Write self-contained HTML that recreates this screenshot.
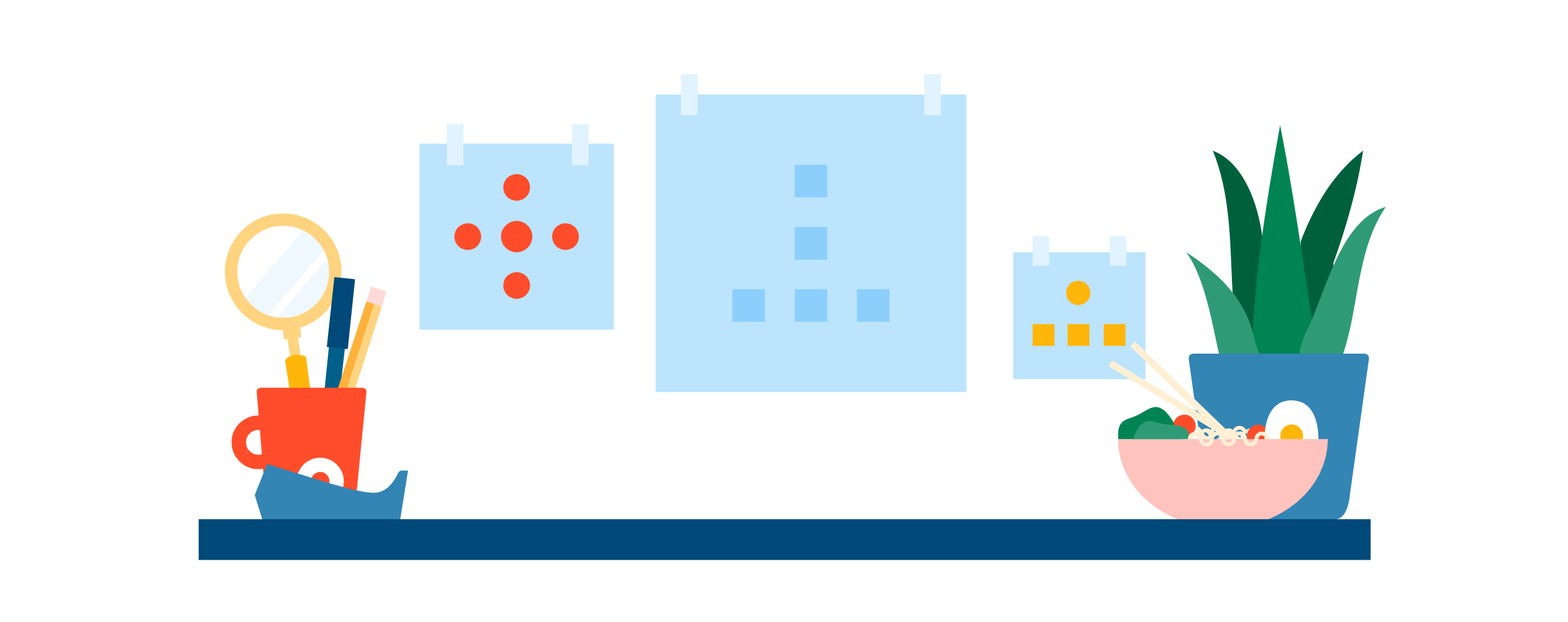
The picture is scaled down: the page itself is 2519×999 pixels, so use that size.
<!DOCTYPE html>
<html lang="en">
<head>
<meta charset="utf-8">
<title>Desk shelf illustration</title>
<style>
html,body{margin:0;padding:0;background:#fff;}
body{width:2519px;height:999px;overflow:hidden;font-family:"Liberation Sans",sans-serif;}
svg{display:block;}
</style>
</head>
<body>
<svg width="2519" height="999" viewBox="0 0 2519 999" role="img" aria-label="Desk shelf with calendars, mug, plant and noodle bowl">
<defs>
<clipPath id="glassClip"><circle cx="455" cy="436.5" r="75"/></clipPath>
<clipPath id="bowlClip"><rect x="1780" y="705.2" width="370" height="128.8"/></clipPath>
<clipPath id="aboveBowl"><rect x="1780" y="600" width="370" height="105.2"/></clipPath>
<clipPath id="aboveBowl2"><rect x="1780" y="600" width="370" height="105.45"/></clipPath>
</defs>
<rect width="2519" height="999" fill="#ffffff"/>

<!-- calendar 1 -->
<g id="cal1">
<rect x="674" y="230.7" width="312" height="298.9" fill="#BCE4FD"/>
<rect x="717.8" y="199.3" width="26.7" height="66" fill="#E0F3FE"/>
<rect x="918.9" y="199.3" width="26.7" height="66" fill="#E0F3FE"/>
<circle cx="830" cy="301" r="21.5" fill="#FF4D2B"/>
<circle cx="830" cy="380" r="25.2" fill="#FF4D2B"/>
<circle cx="751.5" cy="380" r="21.5" fill="#FF4D2B"/>
<circle cx="908.5" cy="380" r="21.5" fill="#FF4D2B"/>
<circle cx="830" cy="458.5" r="21.5" fill="#FF4D2B"/>
</g>

<!-- calendar 2 -->
<g id="cal2">
<rect x="1053.3" y="151.9" width="499.2" height="477.7" fill="#BCE4FD"/>
<rect x="1093.9" y="119.1" width="26.6" height="65.9" fill="#E0F3FE"/>
<rect x="1485" y="119.1" width="26.6" height="65.9" fill="#E0F3FE"/>
<rect x="1276.7" y="264.6" width="52.3" height="52.3" fill="#8DCFFC"/>
<rect x="1276.7" y="364.8" width="52.3" height="52.3" fill="#8DCFFC"/>
<rect x="1276.7" y="464.5" width="52.3" height="52.3" fill="#8DCFFC"/>
<rect x="1176.5" y="464.5" width="52.3" height="52.3" fill="#8DCFFC"/>
<rect x="1376.8" y="464.5" width="52.3" height="52.3" fill="#8DCFFC"/>
</g>

<!-- calendar 3 -->
<g id="cal3">
<rect x="1627.6" y="405.1" width="212.7" height="203.8" fill="#BCE4FD"/>
<rect x="1658.9" y="378.9" width="26.5" height="47.9" fill="#E0F3FE"/>
<rect x="1783" y="378.9" width="26.5" height="47.9" fill="#E0F3FE"/>
<circle cx="1732.2" cy="470.5" r="19.5" fill="#FFB60A"/>
<rect x="1658.9" y="520.5" width="35.1" height="35" fill="#FFB60A"/>
<rect x="1715.1" y="520.5" width="35" height="35" fill="#FFB60A"/>
<rect x="1773.2" y="520.5" width="35" height="35" fill="#FFB60A"/>
</g>

<!-- magnifier -->
<g id="magnifier">
<circle cx="455" cy="436.5" r="75" fill="#EFF8FE"/>
<g clip-path="url(#glassClip)" fill="#ffffff">
<polygon points="551,293.9 330.1,554.2 300,554 300,290"/>
<polygon points="562.8,352 388.6,556.2 406.6,555.1 564.7,369.8"/>
</g>
<circle cx="455" cy="436.5" r="83.75" fill="none" stroke="#FFD480" stroke-width="20"/>
<polygon points="454.2,527 481.9,523 484,541.4 456.3,545.2" fill="#FFD480"/>
<polygon points="461.5,544 478.8,541.5 483.5,575 466.8,575" fill="#FFD480"/>
<path d="M458 579.1 C460 575 467 570.3 474.8 570.1 C482 570 489 571 491.65 573.7 L499 630 L466 630 Z" fill="#FFB60A"/>
</g>

<!-- pen -->
<g id="pen">
<polygon points="528.4,557 554,560 546,630 521,630" fill="#00608A"/>
<polygon points="537.2,445.1 570.4,448.5 558.7,560.8 525,557.2" fill="#004978"/>
</g>

<!-- pencil -->
<g id="pencil">
<polygon points="588.7,484.2 613.5,492 568.6,630 541,630" fill="#FFD480"/>
<polygon points="588.7,484.2 600.9,488.1 555.1,630 541,630" fill="#FFB13B"/>
<polygon points="596.1,460.1 620.9,467.8 613.5,492 588.7,484.2" fill="#FFDAD8"/>
</g>

<!-- mug -->
<g id="mug">
<circle cx="415.2" cy="710.4" r="31.6" fill="none" stroke="#FF4D2B" stroke-width="23.2"/>
<path d="M420 622.8 L581 622.8 Q589.2 622.8 588.6 630.5 L568.6 834 L429.4 834 L412.5 630.5 Q411.9 622.8 420 622.8 Z" fill="#FF4D2B"/>
<circle cx="514.4" cy="773.1" r="38" fill="#ffffff"/>
<circle cx="514.3" cy="773" r="14.9" fill="#FF4D2B"/>
</g>

<!-- tape dispenser -->
<path id="tape" d="M429.2 745.3 L409.2 795 L421.3 834 L643 834 L655.5 755.8 L646 755.8 C641 755.8 640 759 636.3 766.2 C628 780 618 791.3 600 791.4 C585 791.5 560 785 528 775.8 Z" fill="#3385B4"/>

<!-- plant -->
<g id="plant">
<path d="M1948.4 241.9 C2004.7 263.4 2026.5 345.7 2030 400 L2032 575 L1986 575 L1980.2 469.4 C1976 393.2 1977.7 313.7 1948.4 241.9 Z" fill="#00603D"/>
<path d="M2189.9 241.9 C2141.5 278.4 2111.1 332 2089.7 387.6 L2085 575 L2140 575 L2142.2 422 C2163.2 363.5 2180.3 303.4 2189.9 241.9 Z" fill="#00603D"/>
<path d="M2056.5 200.9 C2036.9 310.4 2018.3 421.5 2012.6 532.5 L2012 575 L2112 575 L2107.4 511.5 C2091.4 407.9 2076.9 303.7 2056.5 200.9 Z" fill="#008454"/>
<path d="M1905.8 405.2 C1950.4 434.3 1990.9 469.5 2008.7 521.3 C2014 536.7 2016.5 553 2023.4 567.8 L2023.4 575 L1958.2 575 L1958.2 567.8 C1946.8 517.6 1936.1 447.2 1905.8 405.2 Z" fill="#2F9B76"/>
<path d="M2226.2 332.2 C2151.5 354.4 2129.8 473.2 2098.2 533.3 C2094 543.9 2088.4 555.4 2087.4 567.8 L2087.4 575 L2158 575 L2158 567.7 C2183.7 490.7 2179.6 400.8 2226.2 332.2 Z" fill="#2F9B76"/>
</g>

<!-- pot -->
<path id="pot" d="M1917.5 568 L2191.5 568 Q2200.3 568 2199 578 L2168.7 794 C2167 812 2161 834 2145 834 L1945.8 834 L1909.8 577.5 Q1908.7 568 1917.5 568 Z" fill="#3385B4"/>

<!-- back noodles -->
<g id="backnoodles" fill="none" stroke="#FFF0D5" stroke-width="6">
<path d="M2000.4 700 a8.9 8.9 0 0 1 17.8 0"/>
<path d="M1982.3 696.5 V695.9 a8.9 8.9 0 0 1 17.8 0 V696.5"/>
</g>

<!-- tomato 2 -->
<circle cx="2021.3" cy="700.2" r="18.1" fill="#FF4D2B"/>

<!-- egg -->
<g id="egg">
<path d="M2031.4 706 C2031.4 680 2039 643.1 2074.9 643.1 C2110.8 643.1 2118.1 680 2118.1 706 L2118.1 720 L2031.4 720 Z" fill="#ffffff"/>
<circle cx="2075.1" cy="700" r="18.3" fill="#FFB60A"/>
</g>

<!-- bowl -->
<ellipse cx="1964.6" cy="705.2" rx="168.6" ry="143" fill="#FFC3BE" clip-path="url(#bowlClip)"/>

<!-- greens + tomato 1 -->
<g id="greens" clip-path="url(#aboveBowl)">
<path d="M1796.3 706 L1796.3 696 C1796.5 686 1800 677.5 1810 673.5 C1820 670 1826 668 1835.1 662.5 C1845 656.5 1850 653.7 1857.1 653.7 C1866 653.7 1875 661 1885.7 678.5 L1900 706 Z" fill="#008454"/>
<path d="M1911.1 706 V695.9 a8.9 8.9 0 0 1 17.8 0 V706" fill="none" stroke="#FFF0D5" stroke-width="6"/>
<circle cx="1902.8" cy="684" r="18.1" fill="#FF4D2B"/>
<path d="M1819.6 710 Q1822 694 1832.9 681.8 Q1840 675.5 1848 676.3 Q1856 677.5 1862 679.5 Q1875 682.5 1890 683 Q1902 684.5 1908 692 Q1911 697 1908 710 Z" fill="#2F9B76"/>
</g>

<!-- noodle mass -->
<g id="noodlemass" clip-path="url(#aboveBowl2)" fill="#FFF0D5">
<circle cx="1938" cy="700" r="11.9"/>
<rect x="1926.1" y="700" width="23.8" height="6"/>
<circle cx="1955.7" cy="705" r="11.9"/>
<circle cx="1973.6" cy="700" r="11.9"/>
<rect x="1961.7" y="700" width="23.8" height="6"/>
<circle cx="1991.3" cy="705" r="11.9"/>
<polygon points="1924,701.2 1926.5,700 1926.5,706 1922.2,706"/>
<path d="M1946.7 706 V695.9 a8.9 8.9 0 0 1 17.8 0 V706" fill="none" stroke="#FFF0D5" stroke-width="6"/>
</g>

<!-- chopsticks -->
<g id="chopsticks" stroke="#FFF0D5" stroke-width="10.8" fill="none">
<line x1="1819.4" y1="552.25" x2="1970" y2="697.7"/>
<line x1="1783.85" y1="583.6" x2="1964" y2="692.7" stroke-width="11"/>
</g>

<!-- front noodle -->
<path id="noodle" d="M1911.4 705.1 a8.9 8.9 0 0 1 17.8 0 a8.9 8.9 0 0 0 17.8 0 a8.9 8.9 0 0 1 17.8 0 a8.9 8.9 0 0 0 17.8 0 a8.9 8.9 0 0 1 17.8 0 a8.9 8.9 0 0 0 17.8 0 a8.9 8.9 0 0 1 17.8 0" fill="none" stroke="#FFF0D5" stroke-width="6"/>

<!-- gaps between noodles showing pot -->
<g id="noodlegaps" fill="#3385B4">
<path d="M1933.8 695 C1935.5 693.6 1940.5 694.5 1941.9 700 C1939.5 701.6 1935.3 700.3 1933.8 695 Z"/>
<path d="M1950 704.6 C1950.8 701.5 1953.5 699.2 1955.5 699.2 C1957 699.2 1958.5 700 1959 700.8 C1958.5 702.5 1956.5 704.6 1954 705.2 L1950 705.2 Z"/>
<path d="M1988.2 700.4 Q1990.5 699.3 1993 699.2 L1993 702.9 Z"/>
<polygon points="2002.8,695.3 2000.7,696.9 2001.5,699 2003.2,701.5 2003.4,698"/>
</g>

<!-- shelf -->
<rect x="319.2" y="833.9" width="1882.7" height="65.5" fill="#004978"/>
</svg>
</body>
</html>
